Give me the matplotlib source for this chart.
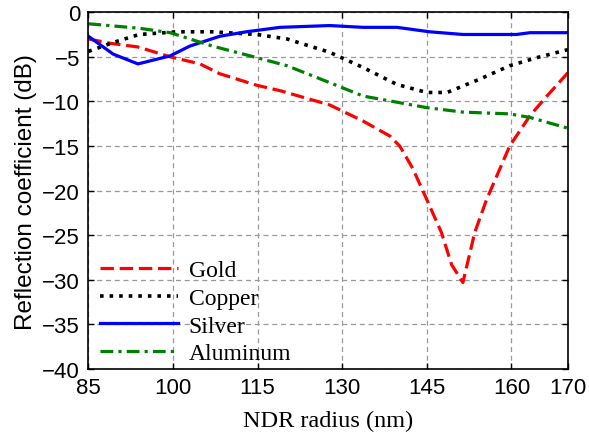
import numpy as np
import matplotlib
matplotlib.use("Agg")
import matplotlib.pyplot as plt

gold_r = [85, 89, 93.8, 99.5, 104.8, 108.3, 114.9, 119, 127.8, 133.7, 138.5, 140.2,
          142.5, 145, 147.6, 149.4, 151.4, 153.5, 155.6, 159.7, 163.3, 166.3, 170]
gold = [-3.0, -3.5, -3.9, -5.0, -5.8, -6.9, -8.2, -8.8, -10.4, -12.2, -13.9, -15.0,
        -17.5, -21.0, -24.7, -28.3, -30.3, -24.7, -21.0, -15.0, -11.6, -9.4, -6.8]

copper_r = [85, 89.4, 94, 100.7, 107, 114.9, 120.2, 127.8, 133.7, 139.7, 145, 148.6,
            154.4, 159.7, 164.5, 170]
copper = [-4.4, -3.4, -2.5, -2.2, -2.2, -2.5, -3.0, -4.5, -6.2, -8.1, -9.0, -9.0,
          -7.5, -6.0, -5.1, -4.2]

silver_r = [85, 89.4, 93.8, 99.5, 103, 108.3, 113, 119, 127.8, 133.7, 139.7, 145.5,
            151.4, 160.9, 163.3, 170]
silver = [-2.7, -4.7, -5.8, -4.9, -3.8, -2.7, -2.2, -1.7, -1.5, -1.7, -1.7, -2.2,
          -2.5, -2.5, -2.3, -2.3]

alu_r = [85, 94, 99.5, 107, 114.9, 120.2, 127.8, 133.7, 145, 151.4, 159.7, 163.3, 170]
alu = [-1.3, -1.8, -2.3, -3.8, -5.1, -6.0, -7.9, -9.4, -10.7, -11.2, -11.4, -11.8, -13.0]

xticks = [85, 100, 115, 130, 145, 160, 170]
yticks = [0, -5, -10, -15, -20, -25, -30, -35, -40]

fig = plt.figure(figsize=(5.89, 4.39), dpi=100)
ax = fig.add_axes([0.150, 0.157, 0.814, 0.813])

lw = 2.3
ax.plot(gold_r, gold, color="#ff0000", ls=(0, (4.2, 1.8)), lw=lw, label="Gold")
ax.plot(copper_r, copper, color="black", ls=":", lw=lw + 0.3, label="Copper")
ax.plot(silver_r, silver, color="#0000ff", ls="-", lw=lw, label="Silver")
ax.plot(alu_r, alu, color="#008000", ls=(0, (4, 1.6, 1, 1.6)), lw=lw, label="Aluminum")

ax.set_xlim(85, 170)
ax.set_ylim(-40, 0)
ax.set_xticks(xticks)
ax.set_yticks(yticks)
ax.tick_params(direction="in", top=True, right=True, length=4, width=1,
               labelsize=16, pad=6)
for lab in ax.get_xticklabels() + ax.get_yticklabels():
    lab.set_family("Liberation Sans")
ax.grid(True, color="0.6", ls=(0, (4, 3)), lw=0.9)
for s in ax.spines.values():
    s.set_linewidth(1.2)

ax.set_xlabel("NDR radius (nm)", family="Liberation Serif", fontsize=17.5, labelpad=8)
ax.set_ylabel("Reflection coefficient (dB)", family="Liberation Sans", fontsize=17.5, labelpad=4)

leg = ax.legend(loc="lower left", bbox_to_anchor=(0.015, 0.0), frameon=False,
                prop={"family": "Liberation Serif", "size": 17},
                handlelength=3.3, handletextpad=0.45, labelspacing=0.26,
                borderpad=0.15, borderaxespad=0.05)

plt.savefig("out.png", dpi=100)
